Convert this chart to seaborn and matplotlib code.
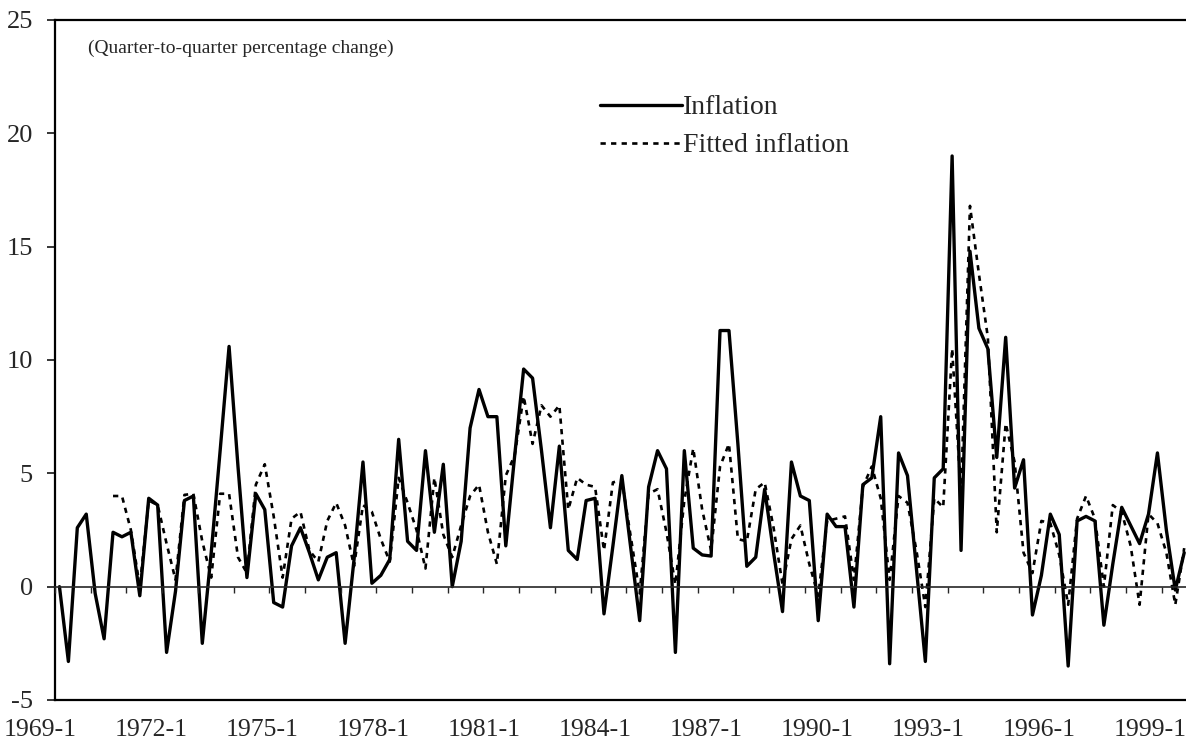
import numpy as np
import pandas as pd
import matplotlib
matplotlib.use("Agg")
import matplotlib.pyplot as plt
import seaborn as sns

# Quarterly observations, 1969-1 onwards (quarter-to-quarter % change)
inflation = [
    0.0, -3.3, 2.6, 3.2, -0.3, -2.3, 2.4, 2.2, 2.4, -0.4,
    3.9, 3.6, -2.9, -0.2, 3.8, 4.0, -2.5, 1.5, 6.0, 10.6,
    5.3, 0.4, 4.1, 3.4, -0.7, -0.9, 1.8, 2.6, 1.5, 0.3,
    1.3, 1.5, -2.5, 1.2, 5.5, 0.15, 0.5, 1.2, 6.5, 2.0,
    1.6, 6.0, 2.4, 5.4, 0.0, 2.0, 7.0, 8.7, 7.5, 7.5,
    1.8, 5.8, 9.6, 9.2, 6.0, 2.6, 6.2, 1.6, 1.2, 3.8,
    3.9, -1.2, 1.8, 4.9, 1.7, -1.5, 4.4, 6.0, 5.2, -2.9,
    6.0, 1.7, 1.4, 1.35, 11.3, 11.3, 6.3, 0.9, 1.3, 4.3,
    1.5, -1.1, 5.5, 4.0, 3.8, -1.5, 3.2, 2.65, 2.65, -0.9,
    4.5, 4.8, 7.5, -3.4, 5.9, 4.9, 0.8, -3.3, 4.8, 5.2,
    19.0, 1.6, 14.8, 11.4, 10.5, 5.7, 11.0, 4.35, 5.6, -1.25,
    0.5, 3.2, 2.3, -3.5, 2.9, 3.1, 2.9, -1.7, 1.0, 3.5,
    2.7, 1.9, 3.2, 5.9, 2.5, -0.15, 1.5,
]

fitted = [
    np.nan, np.nan, np.nan, np.nan, np.nan, np.nan, 4.0, 4.0, 2.5, 0.0,
    3.8, 3.6, 1.9, 0.3, 4.05, 4.1, 2.0, 0.4, 4.1, 4.1,
    1.3, 0.6, 4.5, 5.4, 3.1, 0.4, 3.0, 3.3, 1.6, 1.1,
    2.9, 3.7, 2.7, 0.9, 3.6, 3.3, 2.1, 1.1, 4.8, 3.7,
    2.5, 0.8, 4.8, 2.3, 1.3, 2.7, 4.0, 4.5, 2.4, 1.0,
    4.9, 5.8, 8.4, 6.3, 8.0, 7.5, 8.0, 3.4, 4.8, 4.5,
    4.4, 1.6, 4.6, 4.7, 2.2, -0.3, 4.1, 4.3, 2.4, 0.1,
    3.8, 6.1, 3.4, 1.6, 5.3, 6.3, 2.1, 2.0, 4.3, 4.6,
    2.6, 0.1, 2.1, 2.7, 1.0, -0.4, 2.9, 3.0, 3.1, 0.3,
    4.4, 5.3, 3.9, 0.3, 4.0, 3.7, 1.6, -0.9, 3.9, 3.5,
    10.5, 4.0, 16.8, 13.8, 11.0, 2.4, 7.2, 5.5, 1.5, 0.6,
    2.9, 2.8, 1.4, -0.8, 3.0, 4.0, 3.0, 0.0, 3.6, 3.3,
    1.8, -0.8, 3.2, 2.8, 1.5, -0.8, 1.7,
]

tick_labels = ["1969-1", "1972-1", "1975-1", "1978-1", "1981-1", "1984-1",
               "1987-1", "1990-1", "1993-1", "1996-1", "1999-1"]
yticks = [-5, 0, 5, 10, 15, 20, 25]

df = pd.DataFrame({"quarter": np.arange(len(inflation)),
                   "Inflation": inflation,
                   "Fitted inflation": fitted})

sns.set_style("ticks")
plt.rcParams["font.family"] = ["Liberation Serif", "DejaVu Serif"]

fig = plt.figure(figsize=(11.86, 7.55), dpi=100)
ax = fig.add_axes([55 / 1186, 55 / 755, 1 - 55 / 1186, 680 / 755])

sns.lineplot(data=df, x="quarter", y="Inflation", ax=ax, color="black",
             lw=2.4, label="Inflation")
sns.lineplot(data=df, x="quarter", y="Fitted inflation", ax=ax, color="black",
             lw=1.9, linestyle=(0, (2.0, 2.0)), label="Fitted inflation")

ax.set_ylim(-5, 25)
ax.set_yticks(yticks)
ax.set_yticklabels([str(v) for v in yticks], fontsize=19)
ax.set_xticks([])
ax.set_xlim(-0.5, 126.2)
ax.tick_params(axis="y", length=6, width=1.3, direction="out", pad=10)
ax.set_xlabel("")
ax.set_ylabel("")
for side in ["top", "left", "bottom"]:
    ax.spines[side].set_linewidth(1.6)
    ax.spines[side].set_color("black")
ax.spines["right"].set_visible(False)

# the category labels sit a little wider apart than the quarters they name,
# and the first one hangs left of the axis, so they are placed as text
label_pos = -2.18 + 12.434 * np.arange(len(tick_labels))
for pos, lab in zip(label_pos, tick_labels):
    ax.text(pos, -30 / 680, lab, transform=ax.get_xaxis_transform(),
            ha="center", va="center", fontsize=18.5)

# zero line with yearly tick marks
ax2 = ax.twiny()
for side in ["top", "left", "right"]:
    ax2.spines[side].set_visible(False)
ax2.spines["bottom"].set_position(("data", 0))
ax2.spines["bottom"].set_linewidth(1.2)
ax2.xaxis.set_ticks_position("bottom")
ax2.set_xticks(np.arange(0, len(inflation) + 1, 4) - 0.5)
ax2.set_xlim(ax.get_xlim())
ax2.tick_params(axis="x", direction="out", length=4, width=1.0,
                labelbottom=False, labeltop=False)

ax.legend(loc="upper left", bbox_to_anchor=(600 / 1186, 1 - 95 / 755),
          bbox_transform=fig.transFigure, frameon=False, fontsize=20,
          handlelength=2.95, handletextpad=0.05, borderpad=0,
          borderaxespad=0, labelspacing=0.45)

fig.text(88 / 1186, 1 - 48 / 755, "(Quarter-to-quarter percentage change)",
         fontsize=14, ha="left", va="center")

fig.savefig("out.png", dpi=100)
